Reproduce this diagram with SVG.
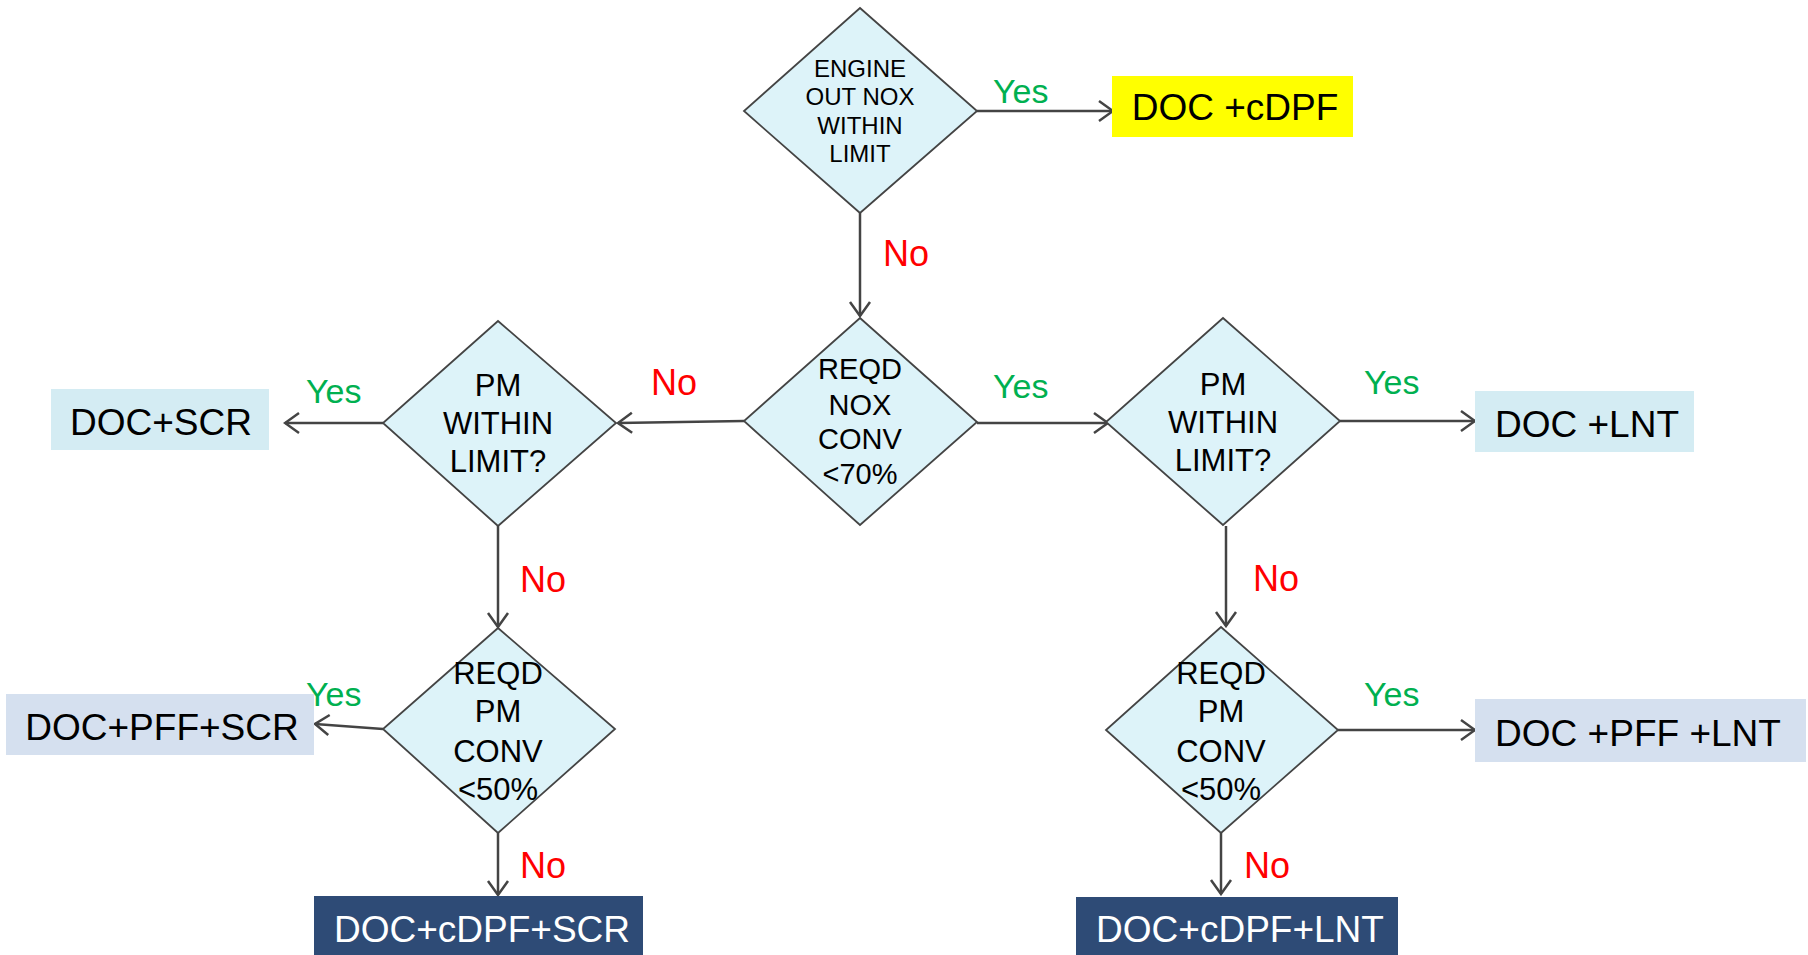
<svg xmlns="http://www.w3.org/2000/svg" width="1808" height="955" viewBox="0 0 1808 955">
  <style>
    .dia { fill: #DDF3F9; stroke: #444444; stroke-width: 1.8; }
    .q { font-family: "Liberation Sans", Arial, sans-serif; fill: #000; text-anchor: middle; }
    .q24 { font-size: 24px; }
    .q29 { font-size: 29px; }
    .q31 { font-size: 31px; }
    .res { font-family: "Liberation Sans", Arial, sans-serif; font-size: 37px; text-anchor: middle; fill: #000; }
    .white { fill: #FFFFFF; }
    .yes { font-family: "Liberation Sans", Arial, sans-serif; font-size: 34px; fill: #00B050; }
    .no { font-family: "Liberation Sans", Arial, sans-serif; font-size: 36px; fill: #FF0000; }
    .conn { stroke: #444444; stroke-width: 2.5; fill: none; marker-end: url(#arrow); }
  </style>
  <defs>
    <marker id="arrow" markerUnits="userSpaceOnUse" markerWidth="18" markerHeight="24" viewBox="0 0 18 24" refX="16" refY="12" orient="auto">
      <path d="M2,2 L16,12 L2,22" fill="none" stroke="#444444" stroke-width="2.5"/>
    </marker>
  </defs>
  <rect width="1808" height="955" fill="#FFFFFF"/>

  <!-- connectors -->
  <g id="connectors">
    <line class="conn" x1="977" y1="111" x2="1113" y2="111"/>
    <line class="conn" x1="860" y1="213" x2="860" y2="316"/>
    <line class="conn" x1="744" y1="421" x2="618" y2="423"/>
    <line class="conn" x1="977" y1="423" x2="1108" y2="423"/>
    <line class="conn" x1="383" y1="423" x2="285" y2="423"/>
    <line class="conn" x1="1340" y1="421" x2="1475" y2="421"/>
    <line class="conn" x1="498" y1="526" x2="498" y2="627"/>
    <line class="conn" x1="1226" y1="526" x2="1226" y2="626"/>
    <line class="conn" x1="383" y1="729" x2="315" y2="724"/>
    <line class="conn" x1="1338" y1="730" x2="1475" y2="730"/>
    <line class="conn" x1="498" y1="833" x2="498" y2="895"/>
    <line class="conn" x1="1221" y1="833" x2="1221" y2="894"/>
  </g>

  <!-- branch labels -->
  <g id="labels">
    <text class="yes" x="993" y="103">Yes</text>
    <text class="no" x="883" y="266">No</text>
    <text class="no" x="651" y="395">No</text>
    <text class="yes" x="993" y="398">Yes</text>
    <text class="yes" x="306" y="403">Yes</text>
    <text class="yes" x="1364" y="394">Yes</text>
    <text class="no" x="520" y="592">No</text>
    <text class="no" x="1253" y="591">No</text>
    <text class="yes" x="306" y="706">Yes</text>
    <text class="yes" x="1364" y="706">Yes</text>
    <text class="no" x="520" y="878">No</text>
    <text class="no" x="1244" y="878">No</text>
  </g>

  <!-- decisions -->
  <g id="d-engine-nox">
    <polygon class="dia" points="860,8 977,111 860,213 744,111"/>
    <text class="q q24" x="860" y="77">ENGINE</text>
    <text class="q q24" x="860" y="105">OUT NOX</text>
    <text class="q q24" x="860" y="134">WITHIN</text>
    <text class="q q24" x="860" y="162">LIMIT</text>
  </g>
  <g id="d-nox-conv">
    <polygon class="dia" points="860,318 977,422 860,525 744,421"/>
    <text class="q q29" x="860" y="379">REQD</text>
    <text class="q q29" x="860" y="415">NOX</text>
    <text class="q q29" x="860" y="449">CONV</text>
    <text class="q q29" x="860" y="484">&lt;70%</text>
  </g>
  <g id="d-pm-left">
    <polygon class="dia" points="498,321 616,423 498,526 383,423"/>
    <text class="q q31" x="498" y="396">PM</text>
    <text class="q q31" x="498" y="434">WITHIN</text>
    <text class="q q31" x="498" y="472">LIMIT?</text>
  </g>
  <g id="d-pm-right">
    <polygon class="dia" points="1223,318 1340,421 1223,525 1106,422"/>
    <text class="q q31" x="1223" y="395">PM</text>
    <text class="q q31" x="1223" y="433">WITHIN</text>
    <text class="q q31" x="1223" y="471">LIMIT?</text>
  </g>
  <g id="d-pm-conv-left">
    <polygon class="dia" points="498,628 615,729 498,833 383,729"/>
    <text class="q q31" x="498" y="684">REQD</text>
    <text class="q q31" x="498" y="722">PM</text>
    <text class="q q31" x="498" y="762">CONV</text>
    <text class="q q31" x="498" y="800">&lt;50%</text>
  </g>
  <g id="d-pm-conv-right">
    <polygon class="dia" points="1221,627 1338,730 1221,833 1106,730"/>
    <text class="q q31" x="1221" y="684">REQD</text>
    <text class="q q31" x="1221" y="722">PM</text>
    <text class="q q31" x="1221" y="762">CONV</text>
    <text class="q q31" x="1221" y="800">&lt;50%</text>
  </g>

  <!-- outcomes -->
  <g id="r-doc-cdpf">
    <rect x="1112" y="76" width="241" height="61" fill="#FFFF00"/>
    <text class="res" x="1235" y="120">DOC +cDPF</text>
  </g>
  <g id="r-doc-scr">
    <rect x="51" y="389" width="218" height="61" fill="#D4ECF3"/>
    <text class="res" x="161" y="435">DOC+SCR</text>
  </g>
  <g id="r-doc-lnt">
    <rect x="1475" y="391" width="219" height="61" fill="#D4ECF3"/>
    <text class="res" x="1587" y="437">DOC +LNT</text>
  </g>
  <g id="r-doc-pff-scr">
    <rect x="6" y="694" width="308" height="61" fill="#D5E0EF"/>
    <text class="res" x="162" y="740">DOC+PFF+SCR</text>
  </g>
  <g id="r-doc-pff-lnt">
    <rect x="1475" y="699" width="331" height="63" fill="#D5E0EF"/>
    <text class="res" x="1638" y="746">DOC +PFF +LNT</text>
  </g>
  <g id="r-doc-cdpf-scr">
    <rect x="314" y="896" width="329" height="59" fill="#2E4B76"/>
    <text class="res white" x="482" y="942">DOC+cDPF+SCR</text>
  </g>
  <g id="r-doc-cdpf-lnt">
    <rect x="1076" y="897" width="322" height="58" fill="#2E4B76"/>
    <text class="res white" x="1240" y="942">DOC+cDPF+LNT</text>
  </g>
</svg>
